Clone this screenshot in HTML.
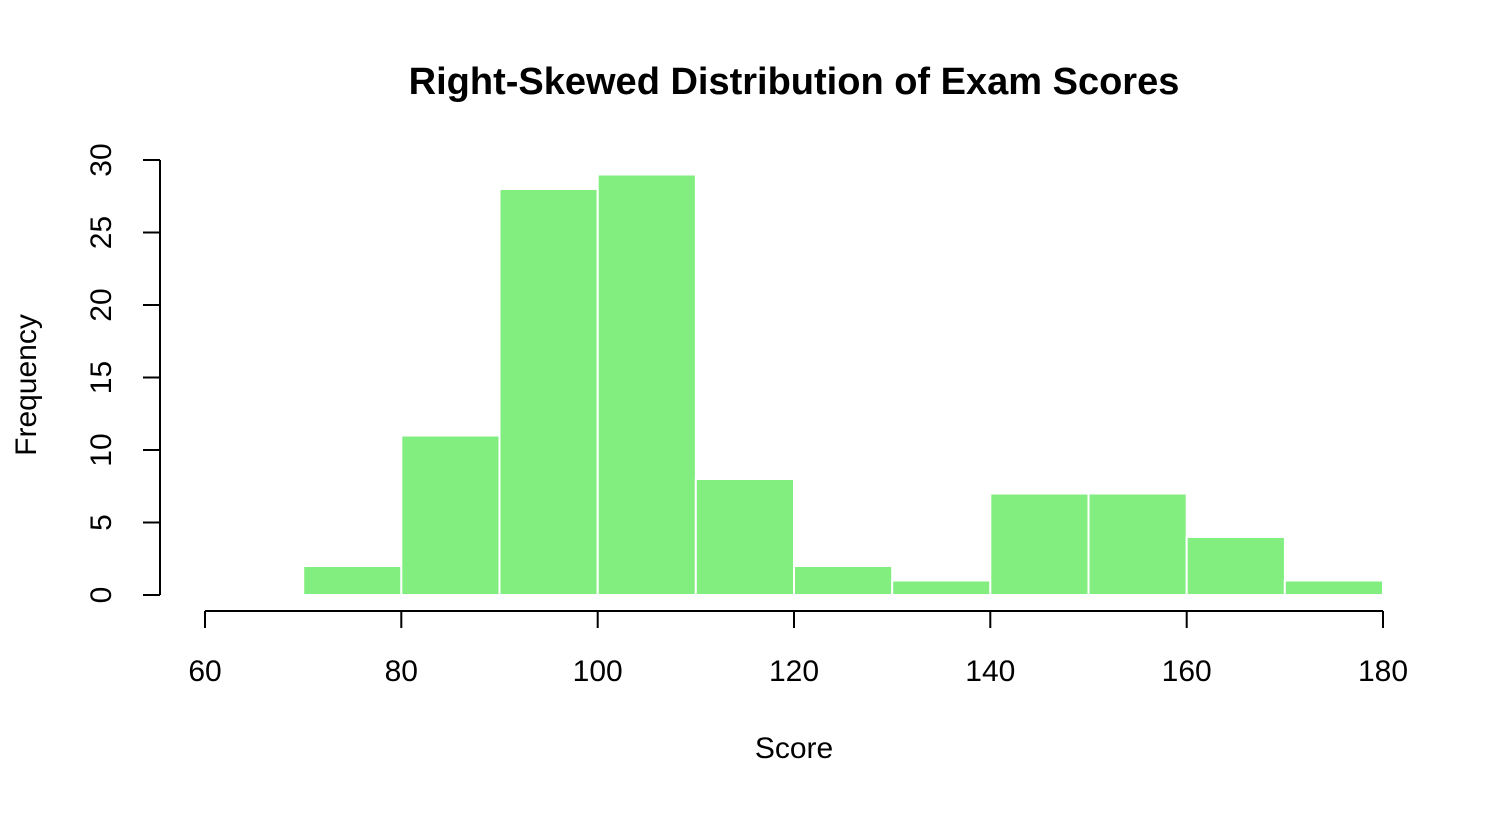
<!DOCTYPE html>
<html><head><style>html,body{margin:0;padding:0;background:#fff}</style></head>
<body>
<svg width="1512" height="808" xmlns="http://www.w3.org/2000/svg" font-family="Liberation Sans, Arial, sans-serif">
<text x="794" y="94" text-anchor="middle" font-size="38" font-weight="bold">Right-Skewed Distribution of Exam Scores</text>
<g fill="#82ee80" stroke="#fff" stroke-width="2">
<rect x="303.2" y="566" width="98.2" height="29"/>
<rect x="401.3" y="435.5" width="98.2" height="159.5"/>
<rect x="499.5" y="189" width="98.2" height="406"/>
<rect x="597.7" y="174.5" width="98.2" height="420.5"/>
<rect x="695.8" y="479" width="98.2" height="116"/>
<rect x="794" y="566" width="98.2" height="29"/>
<rect x="892.2" y="580.5" width="98.2" height="14.5"/>
<rect x="990.3" y="493.5" width="98.2" height="101.5"/>
<rect x="1088.5" y="493.5" width="98.2" height="101.5"/>
<rect x="1186.7" y="537" width="98.2" height="58"/>
<rect x="1284.8" y="580.5" width="98.2" height="14.5"/>
</g>
<g stroke="#000" stroke-width="2" fill="none">
<line x1="205" y1="611" x2="1383" y2="611"/>
<line x1="205" y1="611" x2="205" y2="628"/>
<line x1="401.3" y1="611" x2="401.3" y2="628"/>
<line x1="597.7" y1="611" x2="597.7" y2="628"/>
<line x1="794" y1="611" x2="794" y2="628"/>
<line x1="990.3" y1="611" x2="990.3" y2="628"/>
<line x1="1186.7" y1="611" x2="1186.7" y2="628"/>
<line x1="1383" y1="611" x2="1383" y2="628"/>
<line x1="160" y1="160" x2="160" y2="595"/>
<line x1="143" y1="595" x2="160" y2="595"/>
<line x1="143" y1="522.5" x2="160" y2="522.5"/>
<line x1="143" y1="450" x2="160" y2="450"/>
<line x1="143" y1="377.5" x2="160" y2="377.5"/>
<line x1="143" y1="305" x2="160" y2="305"/>
<line x1="143" y1="232.5" x2="160" y2="232.5"/>
<line x1="143" y1="160" x2="160" y2="160"/>
</g>
<g font-size="30" text-anchor="middle">
<text x="205" y="681">60</text>
<text x="401.3" y="681">80</text>
<text x="597.7" y="681">100</text>
<text x="794" y="681">120</text>
<text x="990.3" y="681">140</text>
<text x="1186.7" y="681">160</text>
<text x="1383" y="681">180</text>
<text transform="translate(111,595) rotate(-90)">0</text>
<text transform="translate(111,522.5) rotate(-90)">5</text>
<text transform="translate(111,450) rotate(-90)">10</text>
<text transform="translate(111,377.5) rotate(-90)">15</text>
<text transform="translate(111,305) rotate(-90)">20</text>
<text transform="translate(111,232.5) rotate(-90)">25</text>
<text transform="translate(111,160) rotate(-90)">30</text>
<text x="794" y="758">Score</text>
<text transform="translate(36,385) rotate(-90)">Frequency</text>
</g>
</svg>
</body></html>
